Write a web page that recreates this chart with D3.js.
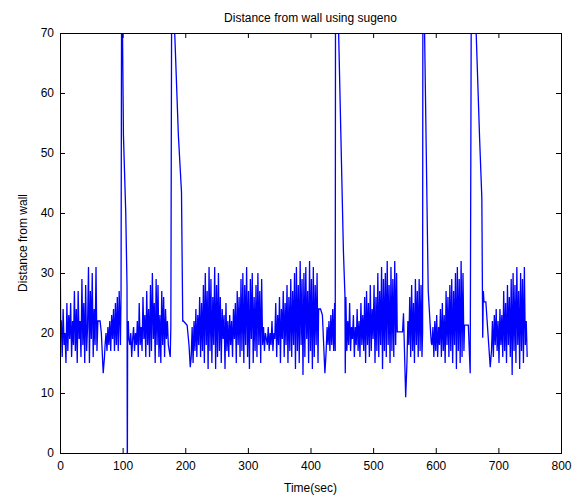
<!DOCTYPE html>
<html>
<head>
<meta charset="utf-8">
<script src="https://cdn.jsdelivr.net/npm/d3@7"></script>
<style>
  html, body { margin: 0; padding: 0; background: #fff; }
  svg { display: block; }
  text { font-family: "Liberation Sans", Arial, Helvetica, sans-serif; }
</style>
</head>
<body>
<svg id="chart" width="582" height="500"></svg>
<script>
// ---------------- DATA ----------------
const titleText = "Distance from wall using sugeno";
const xLabelText = "Time(sec)";
const yLabelText = "Distance from wall";
const xTicks = [0, 100, 200, 300, 400, 500, 600, 700, 800];
const yTicks = [0, 10, 20, 30, 40, 50, 60, 70];

// oscillating stretches: sampled every 1.5 s from the given start time
const sampleStep = 1.5;
const noiseStarts = [2, 72, 110, 209.5, 425, 458, 554, 594, 689];
const noiseA = [22, 16, 24, 18, 20, 15, 25, 17, 23, 19, 25, 16, 22, 18, 27, 17, 24, 15, 27, 19,
                22, 16, 29, 18, 25, 15, 28, 17, 21, 31, 15, 27, 19, 30, 16, 24, 18, 31, 17];
const noiseB = [18, 20, 17, 21, 18, 22, 17, 23, 19, 24, 17, 25, 18, 26, 17, 27];
const noiseC = [19, 18, 20, 16, 19, 21, 17, 20, 18, 22, 16, 25, 18, 21, 17, 26, 19, 23, 16, 27,
                18, 24, 16, 28, 17, 30, 19, 25, 15, 29, 18, 28, 16, 23, 15, 27, 18, 26, 16, 24,
                19, 22, 18, 17];
const noiseD = [16, 21, 15, 22, 17, 24, 16, 23, 18, 26, 16, 25, 17, 28,
                15, 30, 18, 27, 14, 31, 17, 29, 15, 26, 18, 31, 14, 28, 16, 30, 17,
                26, 15, 24, 19, 23, 14, 25, 17, 22, 16, 23,
                18, 22, 16, 24, 19, 25, 15, 27, 18, 26, 16, 29, 17, 30,
                15, 28, 18, 31, 16, 27, 14, 29, 19, 30, 15, 26, 17, 28, 16, 30, 18, 27, 15, 29,
                18, 21, 17, 20, 19, 18, 21, 17, 20, 18, 22, 17, 20, 19,
                25, 16, 23, 18, 26, 15, 24, 19, 27, 16, 25, 18, 28, 15, 26, 17, 29, 16, 27, 18, 30,
                14, 31, 17, 28, 15, 32, 18, 29, 13, 30, 16, 31, 19, 27, 15, 32, 17, 29, 14, 31,
                16, 28, 18, 30, 15];
const noiseE = [17, 21, 18, 22, 17, 23, 18, 24, 17, 25];
const noiseF = [17, 22, 18, 25, 17, 21, 19, 23, 16, 21, 18, 24, 17, 22, 16, 25, 18, 23, 17, 26,
                15, 27, 18, 25, 16, 28, 17, 24, 19, 28, 15, 26, 17, 30, 16, 27, 18, 31, 14, 29,
                17, 30, 16, 32, 18, 28, 15, 31, 17, 29, 16, 32, 18, 30];
const noiseG = [15, 22, 18, 26, 16, 28, 17, 25, 15, 29, 18, 27, 16, 29, 17, 28, 16];
const noiseH = [18, 21, 16, 22, 17, 23, 16, 21, 18, 24, 16, 25, 17, 23, 15, 27, 18, 26, 16, 28,
                17, 29, 15, 27, 18, 30, 14, 31, 17, 29, 15, 32, 16, 30, 17];
const noiseI = [17, 22, 16, 23, 18, 24, 17, 22, 15, 24, 18, 23, 16, 27, 17, 25, 15, 28, 18, 26,
                16, 29, 13, 30, 17, 28, 15, 31, 18, 27, 14, 30, 17, 29, 15, 31, 18, 22, 16];

// explicit [time, distance] points: start, flats, dips and the large excursions
const startPts = [[0, 39], [1, 22]];
const trans1 = [[60.5, 22], [64, 22], [66, 20], [69, 13.3], [71, 16]];
const trans2 = [[96.5, 18], [97.5, 27], [98.5, 85], [101.3, 53], [105, 40], [107, 28],
                [107.5, -5], [108, 19], [109, 22]];
const trans3 = [[176, 16], [177, 21], [178.5, 85], [182.5, 72], [189, 53], [194, 43.5],
                [196, 22], [197, 22], [203, 21.3], [206, 18], [208, 14.3]];
const trans4 = [[413, 24], [416, 24], [419, 23], [423, 13.3]];
const trans5 = [[439.5, 17], [440, 85], [444.5, 72], [452.6, 33.5], [455, 26.3],
                [455.5, 13.3], [456.5, 26]];
const trans6 = [[538.5, 20.2], [547, 20.2], [548.5, 23.3], [552, 9.3]];
const trans7 = [[579, 20], [579.5, 85], [581.5, 75], [588, 27], [592, 19.7], [593, 18.3]];
const trans8 = [[646, 21.3], [652, 21.3], [655, 13.3], [657, 85], [663, 75], [670, 52.5],
                [673.6, 42.5], [675, 19.2], [676, 27], [677, 25.2], [680, 25.2], [687, 14.3]];

// ---------------- BUILD SERIES ----------------
const noiseSets = [noiseA, noiseB, noiseC, noiseD, noiseE, noiseF, noiseG, noiseH, noiseI];
const transSets = [startPts, trans1, trans2, trans3, trans4, trans5, trans6, trans7, trans8];
let series = [];
transSets.forEach((pts, i) => {
  pts.forEach(p => series.push({t: p[0], v: p[1]}));
  const vals = noiseSets[i];
  vals.forEach((v, k) => series.push({t: noiseStarts[i] + k * sampleStep, v: v}));
});
series.sort((a, b) => a.t - b.t);

// ---------------- DRAW ----------------
const svg = d3.select("#chart");
const L = 60, R = 561, T = 33, B = 453;
const x = d3.scaleLinear().domain([0, 800]).range([L, R]);
const y = d3.scaleLinear().domain([0, 70]).range([B, T]);

svg.append("rect").attr("width", 582).attr("height", 500).attr("fill", "#fff");

svg.append("defs").append("clipPath").attr("id", "plotclip")
  .append("rect").attr("x", L).attr("y", T).attr("width", R - L).attr("height", B - T);

const line = d3.line().x(d => x(d.t)).y(d => y(d.v));
svg.append("path")
  .datum(series)
  .attr("clip-path", "url(#plotclip)")
  .attr("fill", "none")
  .attr("stroke", "#0000ff")
  .attr("stroke-width", 1.3)
  .attr("stroke-linejoin", "miter")
  .attr("d", line);

function styleAxis(g) {
  g.select(".domain").remove();
  g.selectAll(".tick line").attr("stroke", "#000");
  g.selectAll("text").attr("fill", "#000").style("font-size", "12px");
}

svg.append("g").attr("transform", `translate(0,${B})`)
  .call(d3.axisBottom(x).tickValues(xTicks).tickFormat(d3.format("d")).tickSizeInner(-5).tickSizeOuter(0).tickPadding(8))
  .call(styleAxis);
svg.append("g").attr("transform", `translate(0,${T})`)
  .call(d3.axisTop(x).tickValues(xTicks).tickFormat("").tickSizeInner(-5).tickSizeOuter(0))
  .call(styleAxis);
svg.append("g").attr("transform", `translate(${L},0)`)
  .call(d3.axisLeft(y).tickValues(yTicks).tickFormat(d3.format("d")).tickSizeInner(-5).tickSizeOuter(0).tickPadding(6))
  .call(styleAxis);
svg.append("g").attr("transform", `translate(${R},0)`)
  .call(d3.axisRight(y).tickValues(yTicks).tickFormat("").tickSizeInner(-5).tickSizeOuter(0))
  .call(styleAxis);

svg.append("rect")
  .attr("x", L).attr("y", T).attr("width", R - L).attr("height", B - T)
  .attr("fill", "none").attr("stroke", "#000").attr("stroke-width", 1)
  .attr("shape-rendering", "crispEdges");

svg.append("text").attr("x", (L + R) / 2).attr("y", 22)
  .attr("text-anchor", "middle").style("font-size", "12px").text(titleText);
svg.append("text").attr("x", (L + R) / 2).attr("y", 492)
  .attr("text-anchor", "middle").style("font-size", "12px").text(xLabelText);
svg.append("text").attr("transform", `translate(27,${(T + B) / 2}) rotate(-90)`)
  .attr("text-anchor", "middle").style("font-size", "12px").text(yLabelText);
</script>
</body>
</html>
